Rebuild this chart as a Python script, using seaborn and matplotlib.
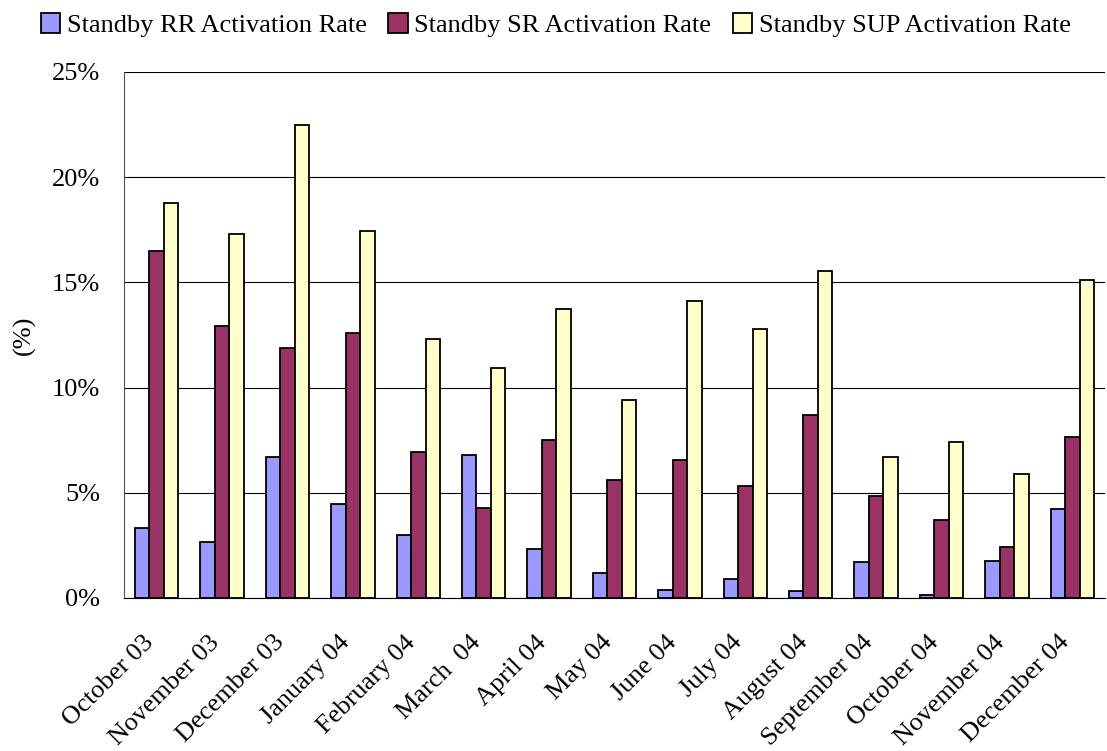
import numpy as np
import pandas as pd
import matplotlib
matplotlib.use('Agg')
import matplotlib.pyplot as plt
import matplotlib.transforms as mtransforms
import seaborn as sns
from matplotlib.ticker import PercentFormatter, FixedLocator

# Data (percent)
months = ['October 03', 'November 03', 'December 03', 'January 04', 'February 04',
          'March  04', 'April 04', 'May 04', 'June 04', 'July 04', 'August 04',
          'September 04', 'October 04', 'November 04', 'December 04']
rr = [3.35, 2.64, 6.68, 4.46, 3.00, 6.78, 2.33, 1.20, 0.40, 0.91, 0.31, 1.70, 0.12, 1.77, 4.21]
sr = [16.49, 12.92, 11.88, 12.61, 6.95, 4.27, 7.52, 5.61, 6.58, 5.33, 8.68, 4.85, 3.71, 2.44, 7.67]
sup = [18.78, 17.29, 22.48, 17.43, 12.31, 10.94, 13.73, 9.39, 14.11, 12.79, 15.53, 6.72, 7.41, 5.87, 15.12]
series = ['Standby RR Activation Rate', 'Standby SR Activation Rate', 'Standby SUP Activation Rate']
colors = ['#9999FF', '#993366', '#FFFFCC']

df = pd.DataFrame({'Month': months * 3,
                   'Rate': rr + sr + sup,
                   'Series': np.repeat(series, len(months))})

sns.set_style('white')
plt.rcParams['font.family'] = ['Liberation Serif', 'DejaVu Serif']
plt.rcParams['font.size'] = 19
plt.rcParams['text.color'] = 'black'
plt.rcParams['axes.labelcolor'] = 'black'
plt.rcParams['xtick.color'] = 'black'
plt.rcParams['ytick.color'] = 'black'

fig = plt.figure(figsize=(11.07, 7.51), dpi=100)
ax = fig.add_axes([124 / 1107, 1 - 598 / 751, 981 / 1107, 526 / 751])

sns.barplot(data=df, x='Month', y='Rate', hue='Series', order=months, hue_order=series,
            palette=colors, width=0.665, edgecolor='black', linewidth=1.3,
            saturation=1, ax=ax, legend=True)

ax.set_ylim(0, 25)
ax.set_xlim(-0.5, len(months) - 0.5)
ax.set_yticks(np.arange(0, 26, 5))
ax.yaxis.set_major_formatter(PercentFormatter(decimals=0))
ax.grid(axis='y', color='black', linewidth=0.8)
ax.set_axisbelow(True)
ax.set_xlabel('')
ax.set_ylabel('(%)', fontsize=19, labelpad=12)

for s in ['top', 'right']:
    ax.spines[s].set_visible(False)
ax.spines['left'].set_color('#555555')
ax.spines['bottom'].set_color('black')

# ticks at category boundaries on x, labels at centres
ax.xaxis.set_minor_locator(FixedLocator(np.arange(-0.5, len(months), 1.0)))
ax.tick_params(axis='x', which='major', length=0, pad=24)
ax.tick_params(axis='x', which='minor', length=8, width=1, color='#555555', direction='out')
ax.tick_params(axis='y', length=7, width=1, color='#555555', direction='out', pad=10)
ax.tick_params(axis='both', labelsize=19)
shift = mtransforms.ScaledTranslation(-14 / 100, 0, fig.dpi_scale_trans)
for lbl in ax.get_xticklabels():
    lbl.set_rotation(45)
    lbl.set_ha('right')
    lbl.set_rotation_mode('anchor')
    lbl.set_transform(lbl.get_transform() + shift)

handles, labels = ax.get_legend_handles_labels()
ax.get_legend().remove()
fig.legend(handles, labels, loc='upper center', bbox_to_anchor=(0.502, 1.0), ncol=3,
           frameon=False, fontsize=19, handlelength=0.75, handleheight=0.75,
           handletextpad=0.25, columnspacing=0.8, borderaxespad=0.1)

plt.savefig('out.png', dpi=100)
